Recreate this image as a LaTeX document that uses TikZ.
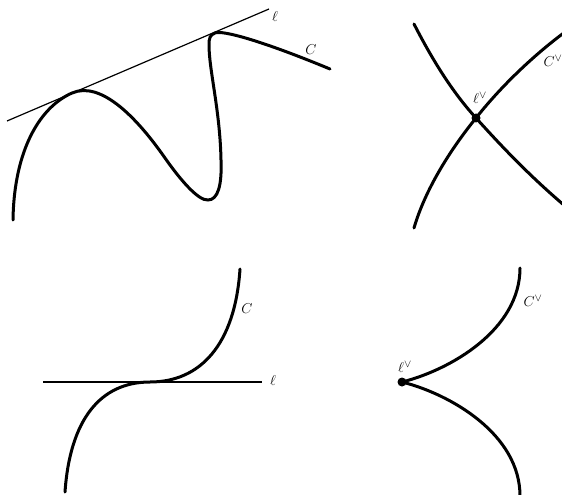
\documentclass[tikz,border=0pt]{standalone}
\usepackage{amsmath, amssymb}
\usepackage{tikz}
\usetikzlibrary{calc}

\begin{document}
\begin{tikzpicture}[
    x=1bp, y=-1bp,
    curve/.style={line width=3bp, line cap=round},
    tangent/.style={line width=1.2bp},
    lbl/.style={inner sep=0pt, font=\fontsize{15}{18}\selectfont},
    pt/.style={circle, fill=black, inner sep=0pt, minimum size=9bp}
]
\useasboundingbox (0,0) rectangle (562,495);
\clip (0,0) rectangle (562,495);

% top left: line tangent at two points
\coordinate (ta) at (7,121);
\coordinate (tb) at (269,9);
\draw[tangent] (ta) -- (tb);
\draw[curve] (13,220) .. controls (14,150) and (40,107) .. (72,93)
  .. controls (100,81) and (135,115) .. (165,158)
  .. controls (179,178) and (198,201) .. (208,200)
  .. controls (218,200) and (222,185) .. (221,160)
  .. controls (220,110) and (209,70) .. (209,45)
  .. controls (209,38) and (210,35) .. (215,33)
  .. controls (222,30) and (260,40) .. (330,69);
\node[lbl] (ell1) at (275,17) {$\ell$};
\node[lbl] (c1) at (311,50) {$C$};

% top right: node in the dual
\coordinate (x2) at (476,118);
\draw[curve] (414,24) .. controls (435,65) and (455,95) .. (x2)
  .. controls (495,139) and (525,172) .. (565,206);
\draw[curve] (414,228) .. controls (425,190) and (450,150) .. (x2)
  .. controls (498,90) and (530,58) .. (565,32);
\node[pt] (p2) at (x2) {};
\node[lbl] (ell2) at (480,98) {$\ell^\vee$};
\node[lbl] (c2) at (553,61) {$C^\vee$};

% bottom left: flex
\coordinate (fa) at (43,382);
\coordinate (fb) at (262,382);
\draw[tangent] (fa) -- (fb);
\draw[curve] (65,492) .. controls (70,420) and (100,382) .. (150,382)
  .. controls (200,382) and (235,345) .. (240,269);
\node[lbl] (ell3) at (273,381) {$\ell$};
\node[lbl] (c3) at (247,309) {$C$};

% bottom right: cusp in the dual
\coordinate (x4) at (402,382);
\draw[curve] (x4) .. controls (450,370) and (520,330) .. (520,268);
\draw[curve] (x4) .. controls (450,394) and (520,434) .. (520,496);
\node[pt] (p4) at (x4) {};
\node[lbl] (ell4) at (405,367) {$\ell^\vee$};
\node[lbl] (c4) at (533,301) {$C^\vee$};
\end{tikzpicture}
\end{document}
